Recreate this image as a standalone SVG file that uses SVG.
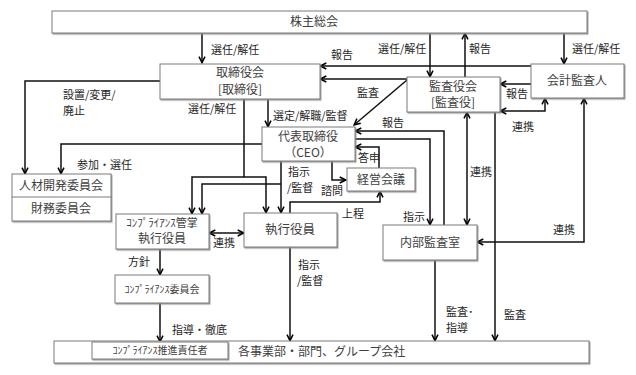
<svg xmlns="http://www.w3.org/2000/svg" width="636" height="375" viewBox="0 0 636 375">
<defs>
<filter id="sh" x="-5%" y="-5%" width="115%" height="130%">
<feDropShadow dx="1" dy="1.2" stdDeviation="0.7" flood-color="#8a8a8a" flood-opacity="0.8"/>
</filter>
<marker id="ah" viewBox="0 0 8 8" refX="7.3" refY="4" markerWidth="8" markerHeight="8" orient="auto-start-reverse" markerUnits="userSpaceOnUse">
<path d="M1,1 L7,4 L1,7" fill="none" stroke="#000" stroke-width="1.5"/>
</marker>
</defs>
<style>
.box{fill:#fff;stroke:#7a7a7a;stroke-width:1;filter:url(#sh)}
.bt{font-family:"Noto Sans CJK JP","Noto Sans",sans-serif;font-size:12px;fill:#404040;text-anchor:middle}
.sm{font-size:10px}
.lb{font-family:"Noto Sans CJK JP","Noto Sans",sans-serif;font-size:11px;fill:#262626}
.c path{fill:none;stroke:#111;stroke-width:1.5}
.e{marker-end:url(#ah)}
.b{marker-start:url(#ah);marker-end:url(#ah)}
</style>
<rect width="636" height="375" fill="#fff"/>

<g id="connectors" class="c">
<path class="e" d="M202,33 V63"/>
<path class="e" d="M430,33 V77"/>
<path class="e" d="M465,77 V33"/>
<path class="e" d="M564,33 V64"/>
<path class="e" d="M531,66 H320"/>
<path class="e" d="M407,79 H320"/>
<path class="e" d="M531,84 H500"/>
<path class="b" d="M500,111 H545 V98"/>
<path class="e" d="M407,80 L354,125"/>
<path class="e" d="M268,99 V127"/>
<path class="e" d="M244,177 H192 V214"/>
<path class="e" d="M244,99 V177 H266 V213"/>
<path class="e" d="M281,161 V213"/>
<path class="e" d="M281,184 H202 V214"/>
<path class="e" d="M262,144 H61 V174"/>
<path class="e" d="M160,81 H25 V174"/>
<path class="e" d="M332,161 V180 H346"/>
<path class="e" d="M379,168 V147 H355"/>
<path class="e" d="M290,213 V202 H380 V191"/>
<path class="e" d="M444,225 V131 H355"/>
<path class="e" d="M355,139 H430 V225"/>
<path class="b" d="M467,112 V225"/>
<path class="e" d="M495,112 V341"/>
<path class="e" d="M435,260 V341"/>
<path class="b" d="M584,98 V242 H477"/>
<path class="b" d="M209,233 H244"/>
<path class="e" d="M160,249 V275"/>
<path class="e" d="M160,303 V342"/>
<path class="e" d="M290,247 V341"/>
</g>

<g id="labels" class="lb">
<text x="211" y="54">選任/解任</text>
<text x="378" y="53">選任/解任</text>
<text x="469" y="53">報告</text>
<text x="572" y="53">選任/解任</text>
<text x="331" y="59">報告</text>
<text x="506" y="98">報告</text>
<text x="512" y="131">連携</text>
<text x="357" y="97">監査</text>
<text x="273" y="120">選定/解職/監督</text>
<text x="188" y="113">選任/解任</text>
<text x="63" y="99">設置/変更/<tspan x="63" dy="16">廃止</tspan></text>
<text x="77" y="169">参加・選任</text>
<text x="288" y="176">指示<tspan x="287" dy="16">/監督</tspan></text>
<text x="321" y="195">諮問</text>
<text x="358" y="162">答申</text>
<text x="342" y="218">上程</text>
<text x="382" y="127">報告</text>
<text x="403" y="221">指示</text>
<text x="470" y="176">連携</text>
<text x="553" y="234">連携</text>
<text x="213" y="247">連携</text>
<text x="128" y="266">方針</text>
<text x="172" y="334">指導・徹底</text>
<text x="298" y="269">指示<tspan x="297" dy="16">/監督</tspan></text>
<text x="446" y="316">監査･<tspan x="446" dy="16">指導</tspan></text>
<text x="504" y="319">監査</text>
</g>

<g id="shareholders">
<rect class="box" x="52" y="11" width="535" height="22"/>
<text class="bt" x="314" y="26">株主総会</text>
</g>
<g id="board">
<rect class="box" x="160" y="64" width="160" height="35"/>
<text class="bt" x="240" y="77">取締役会<tspan x="240" dy="17">[取締役]</tspan></text>
</g>
<g id="auditboard">
<rect class="box" x="407" y="77" width="93" height="35"/>
<text class="bt" x="453" y="91">監査役会<tspan x="453" dy="16">[監査役]</tspan></text>
</g>
<g id="accountingauditor">
<rect class="box" x="531" y="64" width="93" height="34"/>
<text class="bt" x="577" y="85">会計監査人</text>
</g>
<g id="ceo">
<rect class="box" x="262" y="127" width="93" height="34"/>
<text class="bt" x="308" y="141">代表取締役<tspan x="308" dy="16">（CEO）</tspan></text>
</g>
<g id="mgmtmeeting">
<rect class="box" x="347" y="168" width="68" height="23"/>
<text class="bt" x="381" y="184">経営会議</text>
</g>
<g id="committees">
<rect class="box" x="12" y="174" width="99" height="47"/>
<line x1="12" y1="197" x2="111" y2="197" stroke="#7a7a7a"/>
<text class="bt" x="61" y="190">人材開発委員会</text>
<text class="bt" x="61" y="213">財務委員会</text>
</g>
<g id="complianceofficer">
<rect class="box" x="116" y="214" width="93" height="35"/>
<text class="bt" x="162" y="227" style="font-size:11px">ｺﾝﾌﾟﾗｲｱﾝｽ管掌<tspan x="162" dy="16" style="font-size:12px">執行役員</tspan></text>
</g>
<g id="executives">
<rect class="box" x="244" y="213" width="93" height="34"/>
<text class="bt" x="290" y="234" style="font-size:12.5px">執行役員</text>
</g>
<g id="internalaudit">
<rect class="box" x="383" y="225" width="94" height="35"/>
<text class="bt" x="430" y="247">内部監査室</text>
</g>
<g id="compliancecommittee">
<rect class="box" x="115" y="275" width="94" height="28"/>
<text class="bt sm" x="162" y="293">ｺﾝﾌﾟﾗｲｱﾝｽ委員会</text>
</g>
<g id="divisions">
<rect class="box" x="54" y="341" width="535" height="22"/>
<text class="bt" x="238" y="356" style="text-anchor:start">各事業部・部門、グループ会社</text>
</g>
<g id="compliancemanager">
<rect class="box" x="92" y="342" width="136" height="17"/>
<text class="bt sm" x="160" y="354">ｺﾝﾌﾟﾗｲｱﾝｽ推進責任者</text>
</g>
</svg>
